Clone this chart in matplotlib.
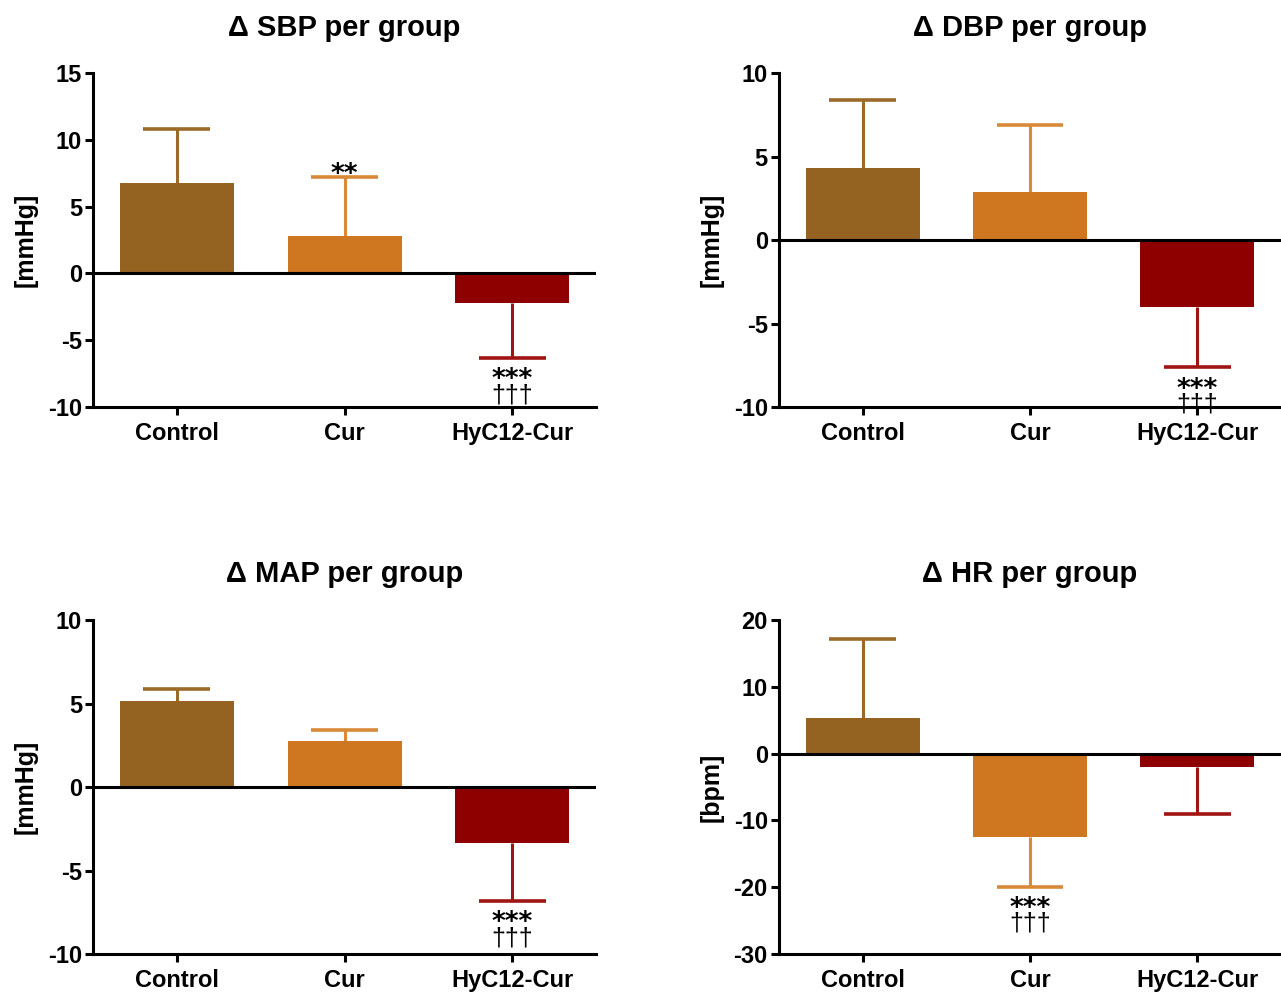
import numpy as np
import matplotlib
matplotlib.use("Agg")
import matplotlib.pyplot as plt

plt.rcParams['font.family'] = ['Liberation Sans', 'DejaVu Sans']
plt.rcParams['axes.unicode_minus'] = False

groups = ['Control', 'Cur', 'HyC12-Cur']

sbp_mean = [6.8, 2.8, -2.2]
sbp_err = [4.0, 4.4, 4.1]
dbp_mean = [4.3, 2.9, -4.0]
dbp_err = [4.1, 4.0, 3.6]
map_mean = [5.15, 2.75, -3.35]
map_err = [0.7, 0.65, 3.45]
hr_mean = [5.3, -12.5, -2.0]
hr_err = [11.85, 7.4, 7.0]

# significance marks: (vs control, vs Cur)
sbp_stars = ['', '**', '***']
sbp_dagger = ['', '', '\u2020\u2020\u2020']
dbp_stars = ['', '', '***']
dbp_dagger = ['', '', '\u2020\u2020\u2020']
map_stars = ['', '', '***']
map_dagger = ['', '', '\u2020\u2020\u2020']
hr_stars = ['', '***', '']
hr_dagger = ['', '\u2020\u2020\u2020', '']

bar_colors = ['#946322', '#cf7621', '#8e0000']
err_colors = ['#9a6a28', '#d98a38', '#a01414']


def draw_panel(ax, means, errs, stars, daggers, title, ylabel, ylim, yticks):
    x = np.arange(len(groups))
    ax.bar(x, means, width=0.68, color=bar_colors, zorder=2)
    for i, (m, e) in enumerate(zip(means, errs)):
        sign = 1 if m >= 0 else -1
        end = m + sign * e
        ax.plot([i, i], [m, end], color=err_colors[i], lw=2.2, zorder=1,
                solid_capstyle='butt')
        ax.plot([i - 0.2, i + 0.2], [end, end], color=err_colors[i], lw=2.6,
                zorder=1, solid_capstyle='butt')
        if sign > 0:
            if stars[i]:
                ax.annotate(stars[i], xy=(i, end), xytext=(0, -3.5),
                            textcoords='offset points', ha='center',
                            va='baseline', fontsize=19, fontweight='bold',
                            family='DejaVu Sans')
        else:
            if stars[i]:
                ax.annotate(stars[i], xy=(i, end), xytext=(0, -21.5),
                            textcoords='offset points', ha='center',
                            va='baseline', fontsize=19, fontweight='bold',
                            family='DejaVu Sans')
            if daggers[i]:
                ax.annotate(daggers[i], xy=(i, end), xytext=(0, -32),
                            textcoords='offset points', ha='center',
                            va='baseline', fontsize=18)
    ax.axhline(0, color='black', lw=2.2, zorder=3)
    ax.set_xlim(-0.5, 2.5)
    ax.set_ylim(*ylim)
    ax.set_yticks(yticks)
    ax.set_xticks(x)
    ax.set_xticklabels(groups, fontsize=17, fontweight='bold')
    for lab in ax.get_yticklabels():
        lab.set_fontsize(17)
        lab.set_fontweight('bold')
    ax.set_title(title, fontsize=21, fontweight='bold', pad=27)
    ax.set_ylabel(ylabel, fontsize=18, fontweight='bold')
    ax.yaxis.set_label_coords(-0.111, 0.5)
    for side in ['top', 'right']:
        ax.spines[side].set_visible(False)
    for side in ['left', 'bottom']:
        ax.spines[side].set_linewidth(2.2)
    ax.tick_params(axis='both', width=2.2, length=6, pad=2)
    ax.tick_params(axis='x', pad=5)


fig = plt.figure(figsize=(12.81, 9.92), dpi=100)
ax1 = fig.add_axes([0.0726, 0.5897, 0.3927, 0.3367])
ax2 = fig.add_axes([0.6081, 0.5897, 0.3919, 0.3367])
ax3 = fig.add_axes([0.0726, 0.0383, 0.3927, 0.3367])
ax4 = fig.add_axes([0.6081, 0.0383, 0.3919, 0.3367])

draw_panel(ax1, sbp_mean, sbp_err, sbp_stars, sbp_dagger, '\u0394 SBP per group',
           '[mmHg]', (-10, 15), [-10, -5, 0, 5, 10, 15])
draw_panel(ax2, dbp_mean, dbp_err, dbp_stars, dbp_dagger, '\u0394 DBP per group',
           '[mmHg]', (-10, 10), [-10, -5, 0, 5, 10])
draw_panel(ax3, map_mean, map_err, map_stars, map_dagger, '\u0394 MAP per group',
           '[mmHg]', (-10, 10), [-10, -5, 0, 5, 10])
draw_panel(ax4, hr_mean, hr_err, hr_stars, hr_dagger, '\u0394 HR per group',
           '[bpm]', (-30, 20), [-30, -20, -10, 0, 10, 20])

fig.savefig('out.png', dpi=100)
